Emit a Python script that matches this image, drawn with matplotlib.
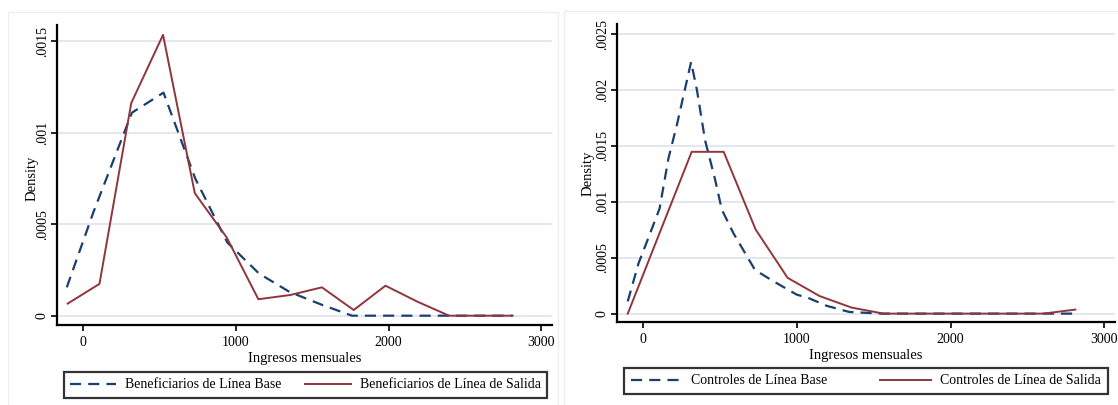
import matplotlib
matplotlib.use('Agg')
from matplotlib import pyplot as plt
from matplotlib.patches import Rectangle

plt.rcParams['font.family'] = ['Liberation Serif', 'DejaVu Serif']

# Beneficiarios (panel izquierdo)
ben_base_x = [-106, 70, 320, 527, 735, 945, 1153, 1352, 1562, 1761, 2000, 2400, 2812]
ben_base_y = [0.000155, 0.00057, 0.00111, 0.00122, 0.00075, 0.00040, 0.00023,
              0.00013, 0.00006, 0.0, 0.0, 0.0, 0.0]
ben_sal_x = [-100, 108, 316, 524, 732, 940, 1148, 1356, 1564, 1772, 1980, 2188,
             2396, 2604, 2812]
ben_sal_y = [0.000066, 0.000174, 0.001163, 0.001536, 0.00067, 0.000429, 0.00009,
             0.000113, 0.000155, 0.000031, 0.000164, 0.000077, 0.0, 0.0, 0.0]

# Controles (panel derecho)
ctl_base_x = [-100, -30, 35, 107, 165, 220, 312, 350, 403, 468, 512, 587, 728,
              847, 999, 1075, 1194, 1340, 1550, 2812]
ctl_base_y = [0.00011, 0.00045, 0.00068, 0.00094, 0.00139, 0.00169, 0.00225,
              0.00200, 0.00155, 0.00120, 0.00093, 0.00072, 0.00039, 0.00029,
              0.00017, 0.00014, 0.00007, 0.000015, 0.0, 0.0]
ctl_sal_x = [-100, 104, 316, 524, 732, 940, 1148, 1356, 1564, 1772, 1980, 2188,
             2396, 2604, 2812]
ctl_sal_y = [0.0, 0.00071, 0.001447, 0.001447, 0.000752, 0.00032, 0.000157,
             0.000054, 0.0, 0.0, 0.0, 0.0, 0.0, 0.0, 0.000036]

navy = '#1a3f6f'
maroon = '#8f353c'
grid_c = '#dfe5ef'

fig = plt.figure(figsize=(11.18, 4.05), dpi=100)
W, H = 1118, 405

# marcos claros de cada panel
fig.add_artist(Rectangle((8 / W, -0.01), 550 / W, 1 - 12 / H + 0.01,
                         transform=fig.transFigure, fill=False,
                         edgecolor='#eaeef4', lw=1))
fig.add_artist(Rectangle((564 / W, -0.01), 560 / W, 1 - 11 / H + 0.01,
                         transform=fig.transFigure, fill=False,
                         edgecolor='#eaeef4', lw=1))

panels = [
    dict(rect=[57 / W, 1 - 325 / H, 495 / W, 300 / H],
         base=(ben_base_x, ben_base_y), sal=(ben_sal_x, ben_sal_y),
         ylim=(-0.000051, 0.00159),
         yticks=[0, 0.0005, 0.001, 0.0015],
         ylabels=['0', '.0005', '.001', '.0015'],
         names=['Beneficiarios de Línea Base', 'Beneficiarios de Línea de Salida'],
         ylab=(-0.037, 0.49),
         leg=((64 + 547) / 2 / W, 1 - 385 / H), colsp=1.7, hlen=3.3),
    dict(rect=[617 / W, 1 - 322 / H, 498 / W, 298 / H],
         base=(ctl_base_x, ctl_base_y), sal=(ctl_sal_x, ctl_sal_y),
         ylim=(-0.000075, 0.00259),
         yticks=[0, 0.0005, 0.001, 0.0015, 0.002, 0.0025],
         ylabels=['0', '.0005', '.001', '.0015', '.002', '.0025'],
         names=['Controles de Línea Base', 'Controles de Línea de Salida'],
         ylab=(-0.045, 0.5),
         leg=((623 + 1109) / 2 / W, 1 - 381 / H), colsp=3.8, hlen=3.7),
]

for p in panels:
    ax = fig.add_axes(p['rect'])
    for y in p['yticks']:
        ax.axhline(y, color=grid_c, lw=1.3, zorder=0)
    l1, = ax.plot(p['base'][0], p['base'][1], color=navy, lw=1.6,
                  dashes=(5, 3.2), label=p['names'][0])
    l2, = ax.plot(p['sal'][0], p['sal'][1], color=maroon, lw=1.4,
                  label=p['names'][1])
    ax.set_xlim(-170, 3070)
    ax.set_ylim(*p['ylim'])
    ax.set_xticks([0, 1000, 2000, 3000])
    ax.set_yticks(p['yticks'])
    ax.set_yticklabels(p['ylabels'], rotation=90, va='center')
    for s in ['top', 'right']:
        ax.spines[s].set_visible(False)
    for s in ['left', 'bottom']:
        ax.spines[s].set_linewidth(1.6)
    ax.tick_params(length=4, width=1.2, labelsize=10, pad=2)
    ax.tick_params(axis='x', pad=4)
    ax.set_xlabel('Ingresos mensuales', fontsize=10.5, labelpad=2)
    ax.set_ylabel('Density', fontsize=10.5)
    ax.yaxis.set_label_coords(*p['ylab'])
    leg = fig.legend(handles=[l1, l2], loc='center', ncol=2,
                     bbox_to_anchor=p['leg'],
                     fontsize=10, frameon=True, fancybox=False,
                     handlelength=p['hlen'], borderpad=0.45, handletextpad=0.65,
                     columnspacing=p['colsp'], borderaxespad=0)
    leg.get_frame().set_edgecolor('black')
    leg.get_frame().set_linewidth(1.6)

fig.savefig('out.png', dpi=100)
